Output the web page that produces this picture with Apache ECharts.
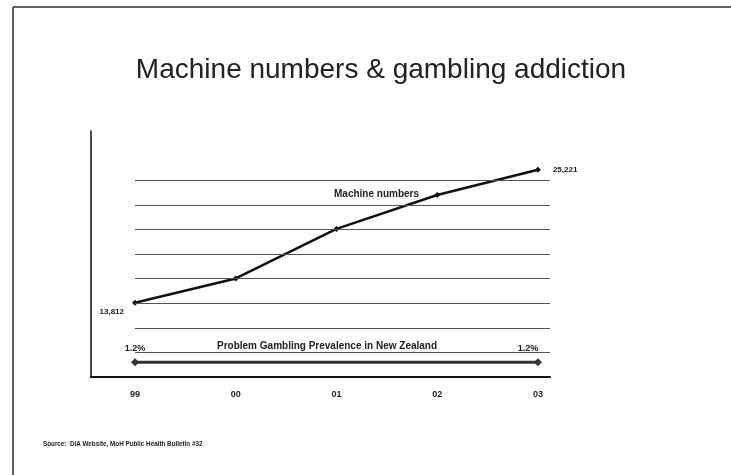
<!DOCTYPE html>
<html>
<head>
<meta charset="utf-8">
<script src="https://cdn.jsdelivr.net/npm/echarts@6/dist/echarts.min.js"></script>
<style>
html,body{margin:0;padding:0;background:#fff;}
#chart{width:731px;height:475px;}
</style>
</head>
<body>
<div id="chart"></div>
<script>
const categories = ['99', '00', '01', '02', '03'];
const machineNumbers = [13812, 15900, 20150, 23060, 25221];
const machineLabels = ['13,812', '', '', '', '25,221'];
const prevalenceYears = [0, 4];
const prevalenceValues = [1.2, 1.2];
const prevalenceLabels = ['1.2%', '1.2%'];
const gridLineValues = [9560, 11670, 13780, 15890, 18000, 20110, 22220, 24330];

const chart = echarts.init(document.getElementById('chart'), null, {renderer: 'canvas'});
const font = 'Liberation Sans, Arial, sans-serif';

const option = {
  animation: false,
  backgroundColor: '#ffffff',
  title: {
    text: 'Machine numbers & gambling addiction',
    left: 376, top: 51, textAlign: 'center',
    textStyle: {fontFamily: font, fontSize: 28, fontWeight: 'normal', color: '#222'}
  },
  grid: {left: 91, right: 181, top: 131, bottom: 98},
  xAxis: {
    type: 'value', min: -0.437, max: 4.12,
    axisLine: {show: true, onZero: false, lineStyle: {color: '#111', width: 2}},
    axisTick: {show: false},
    splitLine: {show: false},
    axisLabel: {
      customValues: [0, 1, 2, 3, 4],
      formatter: v => categories[Math.round(v)],
      margin: 13, fontFamily: font, fontSize: 9, fontWeight: 'bold', color: '#222'
    }
  },
  yAxis: [
    {
      type: 'value', min: 7450, max: 28550,
      axisLine: {show: true, onZero: false, lineStyle: {color: '#111', width: 1.5}},
      axisTick: {show: false}, axisLabel: {show: false}, splitLine: {show: false}
    },
    {type: 'value', min: 0, max: 20, show: false}
  ],
  graphic: [
    {type: 'line', shape: {x1: 13, y1: 7, x2: 731, y2: 7}, style: {stroke: '#333', lineWidth: 1.5}},
    {type: 'line', shape: {x1: 13, y1: 7, x2: 13, y2: 475}, style: {stroke: '#333', lineWidth: 1.5}},
    {type: 'text', left: 334, top: 189, style: {text: 'Machine numbers', font: 'bold 10px ' + font, fill: '#222'}},
    {type: 'text', left: 217, top: 341, style: {text: 'Problem Gambling Prevalence in New Zealand', font: 'bold 10px ' + font, fill: '#222'}},
    {type: 'text', left: 43, top: 441, style: {text: 'Source:  DIA Website, MoH Public Health Bulletin #32', font: 'bold 6.3px ' + font, fill: '#222'}}
  ],
  series: [
    {
      type: 'line', name: 'Gridlines', data: [], silent: true,
      markLine: {
        silent: true, symbol: 'none', label: {show: false},
        lineStyle: {color: '#555', width: 1, type: 'solid'},
        data: gridLineValues.map(v => [{coord: [0, v]}, {coord: [4.12, v]}])
      }
    },
    {
      type: 'line', name: 'Machine numbers',
      data: machineNumbers.map((v, i) => ({
        value: [i, v],
        label: i === 0 ? {show: true, position: 'left', distance: 8, offset: [0, 9]}
             : i === 4 ? {show: true, position: 'right', distance: 12} : {show: false}
      })),
      symbol: 'diamond', symbolSize: 6,
      lineStyle: {color: '#111', width: 2.5},
      itemStyle: {color: '#111'},
      label: {
        formatter: p => machineLabels[p.dataIndex],
        fontFamily: font, fontSize: 8, fontWeight: 'bold', color: '#222'
      }
    },
    {
      type: 'line', name: 'Problem Gambling Prevalence in New Zealand', yAxisIndex: 1,
      data: prevalenceValues.map((v, i) => ({
        value: [prevalenceYears[i], v],
        label: {offset: i === 0 ? [0, 0] : [-10, 0]}
      })),
      symbol: 'diamond', symbolSize: 8,
      lineStyle: {color: '#333', width: 3},
      itemStyle: {color: '#333'},
      label: {
        show: true, position: 'top', distance: 5,
        formatter: p => prevalenceLabels[p.dataIndex],
        fontFamily: font, fontSize: 9, fontWeight: 'bold', color: '#222'
      }
    }
  ]
};
chart.setOption(option);
</script>
</body>
</html>
